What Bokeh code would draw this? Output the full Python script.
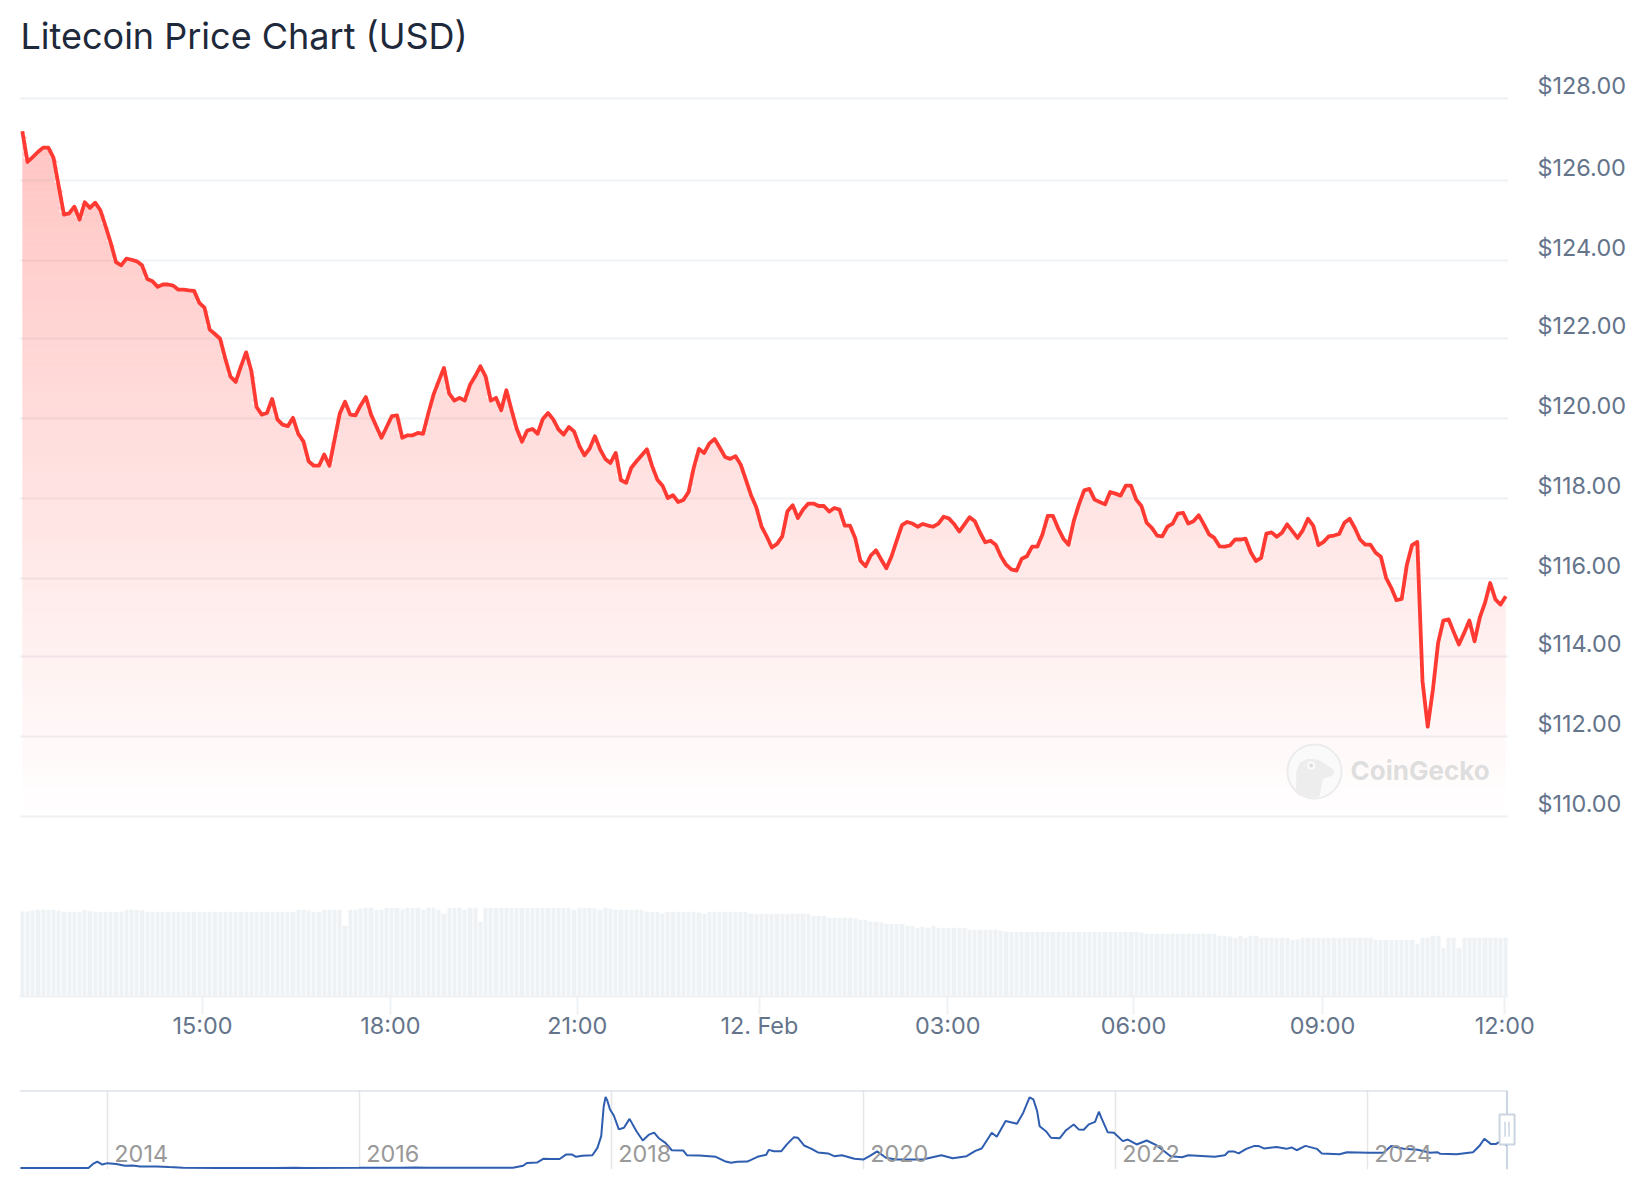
from bokeh.plotting import figure
from bokeh.layouts import column
from bokeh.models import Range1d, LinearAxis, FixedTicker, Title, Label
from bokeh.core.properties import value
from bokeh.embed import file_html
from bokeh.resources import INLINE
import numpy as np

TITLE = "Litecoin Price Chart (USD)"

PRICE = [
127.17,126.40,126.52,126.65,126.76,126.76,126.50,125.79,125.08,125.11,125.28,124.96,125.39,125.25,125.38,125.19,
124.79,124.37,123.89,123.81,123.98,123.95,123.91,123.81,123.47,123.41,123.27,123.33,123.33,123.30,123.20,123.20,
123.18,123.17,122.87,122.75,122.20,122.09,121.97,121.47,121.02,120.89,121.28,121.63,121.16,120.26,120.07,120.11,
120.46,119.95,119.82,119.78,119.99,119.59,119.40,118.90,118.79,118.79,119.07,118.79,119.45,120.10,120.39,120.07,
120.05,120.30,120.51,120.07,119.78,119.49,119.76,120.03,120.05,119.49,119.55,119.55,119.61,119.59,120.10,120.57,
120.91,121.24,120.60,120.42,120.49,120.42,120.81,121.03,121.28,121.03,120.42,120.49,120.18,120.68,120.18,119.71,
119.39,119.67,119.71,119.59,119.96,120.11,119.95,119.70,119.57,119.76,119.65,119.29,119.05,119.22,119.53,119.20,
118.96,118.86,119.11,118.43,118.36,118.74,118.90,119.05,119.20,118.78,118.44,118.29,117.98,118.05,117.88,117.93,
118.13,118.74,119.21,119.11,119.35,119.46,119.24,119.01,118.96,119.03,118.82,118.44,118.05,117.75,117.27,117.02,
116.74,116.83,117.02,117.65,117.80,117.48,117.69,117.84,117.84,117.78,117.78,117.64,117.73,117.69,117.29,117.29,
116.98,116.41,116.27,116.54,116.67,116.44,116.22,116.52,116.92,117.30,117.38,117.34,117.26,117.33,117.29,117.26,
117.34,117.51,117.47,117.33,117.14,117.32,117.50,117.40,117.11,116.87,116.91,116.81,116.52,116.31,116.19,116.16,
116.46,116.52,116.76,116.76,117.07,117.53,117.53,117.22,116.96,116.81,117.40,117.82,118.17,118.21,117.94,117.88,
117.82,118.13,118.09,118.04,118.29,118.29,117.94,117.78,117.36,117.23,117.04,117.02,117.26,117.34,117.59,117.61,
117.34,117.40,117.55,117.32,117.07,116.98,116.77,116.76,116.79,116.94,116.94,116.96,116.62,116.40,116.48,117.09,
117.12,117.01,117.11,117.32,117.15,116.98,117.17,117.46,117.29,116.80,116.88,117.02,117.04,117.08,117.36,117.46,
117.23,116.94,116.81,116.81,116.61,116.51,115.98,115.73,115.42,115.45,116.31,116.80,116.88,113.39,112.25,113.18,
114.35,114.91,114.94,114.62,114.31,114.60,114.91,114.39,114.98,115.35,115.85,115.44,115.31,115.52,
]

VOLUME_M = [
765,765,774,780,780,780,780,774,762,762,762,762,780,768,762,762,762,762,762,762,780,780,780,774,762,762,762,762,762,762,
762,762,762,762,762,762,762,762,762,762,762,762,762,762,762,762,762,762,762,762,762,762,762,780,780,774,762,762,780,780,
780,780,636,780,780,789,798,798,780,780,798,798,798,786,798,798,798,780,798,798,780,744,798,798,798,780,798,798,672,798,
798,798,798,798,798,798,798,798,798,798,798,798,798,798,798,798,780,798,798,798,795,780,798,789,780,780,780,780,780,780,
762,762,762,744,762,762,762,762,762,762,756,744,762,762,762,762,762,762,762,762,744,744,744,744,744,744,744,744,744,744,
744,744,726,726,726,708,708,708,708,708,702,690,690,672,672,666,654,654,654,654,636,636,618,627,618,636,618,618,618,618,
618,618,600,600,600,600,600,600,591,582,582,582,582,582,582,582,582,582,582,582,582,582,582,582,582,582,582,582,582,582,
582,582,582,582,582,576,564,564,564,564,564,564,564,564,564,564,564,564,564,564,546,546,540,528,546,528,546,546,528,528,
528,528,528,528,510,516,528,528,528,528,528,528,528,528,528,528,528,528,528,528,510,510,510,510,510,510,510,510,474,528,
528,546,546,438,528,528,438,528,528,528,528,528,528,528,528,528,
]

TICK_POSITION = [34.6, 70.7, 106.6, 141.6, 177.8, 213.5, 249.8, 284.8]
TICK_LABEL = ["15:00", "18:00", "21:00", "12. Feb", "03:00", "06:00", "09:00", "12:00"]
PRICE_TICK_AT = [110, 112.0, 114.01, 115.96, 117.97, 119.97, 121.98, 123.93, 125.94, 128]
PRICE_TICK_LABEL = ["$110.00", "$112.00", "$114.00", "$116.00", "$118.00",
                    "$120.00", "$122.00", "$124.00", "$126.00", "$128.00"]

NAV_YEAR = [
2013.31,2013.85,2013.89,2013.92,2013.96,2014.0,2014.07,2014.14,2014.2,2014.26,2014.39,2014.49,2014.6,2014.88,2015.32,
2015.49,2015.58,2016.0,2016.33,2016.44,2016.55,2017.22,2017.3,2017.33,2017.41,2017.46,2017.52,2017.59,2017.64,2017.69,
2017.72,2017.77,2017.85,2017.89,2017.92,2017.94,2017.955,2017.97,2017.99,2018.02,2018.06,2018.1,2018.145,2018.2,2018.25,
2018.3,2018.34,2018.38,2018.43,2018.48,2018.57,2018.6,2018.7,2018.83,2018.9,2018.95,2019.0,2019.08,2019.16,2019.23,
2019.25,2019.29,2019.35,2019.39,2019.45,2019.48,2019.53,2019.59,2019.64,2019.72,2019.77,2019.83,2019.93,2020.0,2020.05,
2020.11,2020.18,2020.26,2020.47,2020.62,2020.71,2020.82,2020.89,2020.94,2021.02,2021.06,2021.13,2021.22,2021.27,2021.32,
2021.35,2021.38,2021.4,2021.45,2021.49,2021.56,2021.61,2021.67,2021.71,2021.75,2021.79,2021.84,2021.87,2021.89,2021.94,
2021.99,2022.06,2022.1,2022.17,2022.25,2022.33,2022.44,2022.53,2022.58,2022.79,2022.87,2022.9,2022.94,2022.98,2023.04,
2023.1,2023.14,2023.18,2023.28,2023.36,2023.4,2023.44,2023.51,2023.6,2023.64,2023.78,2023.84,2024.01,2024.13,2024.19,
2024.29,2024.4,2024.5,2024.56,2024.58,2024.71,2024.84,2024.89,2024.93,2024.98,2025.02,2025.05,2025.11,
]
NAV_PRICE = [
3,3,25,35,20,27,23,14,15,10,10,7,4,3,2.5,4,3,3.5,4,5,3.5,4,14,28,30,49,48,48,70,70,59,64,67,104,163,314,361,339,297,267,
197,205,250,188,141,171,181,151,129,92,91,67,66,59,37,29,34,35,59,69,94,87,87,119,158,155,116,99,81,76,62,67,49,45,62,86,
54,45,45,67,52,62,89,101,180,160,239,225,281,358,348,289,213,188,155,153,193,222,197,195,222,235,286,255,183,180,138,146,
121,141,116,62,57,67,59,67,86,86,76,99,113,113,101,108,99,106,92,114,99,76,72,82,79,79,113,99,94,79,82,74,72,82,113,150,
124,123,134,118,
]
NAV_TICK_YEARS = [2014, 2016, 2018, 2020, 2022, 2024]

FONT = "Inter"
GRID = "#eff2f5"
SLATE = "#64748b"
RED = "#ff3a33"

index = np.arange(len(PRICE), dtype=float)
price = np.array(PRICE)
X0, X1 = -0.54, 285.52
FRAME_W = 1489
PPU = FRAME_W / (X1 - X0)
PX_PER_USD = 39.91
Y_TOP = 128.767
Y_BOT = 109.674

# ---------- price panel ----------
p1 = figure(width=1635, height=849, output_backend="svg", toolbar_location=None,
            x_range=Range1d(X0, X1), y_range=Range1d(Y_BOT, Y_TOP),
            min_border_left=19, min_border_right=127, min_border_top=67, min_border_bottom=20)
p1.xaxis.visible = False
p1.yaxis.visible = False
p1.outline_line_color = None
p1.xgrid.visible = False
p1.ygrid.ticker = FixedTicker(ticks=PRICE_TICK_AT)
p1.ygrid.grid_line_color = GRID
p1.ygrid.grid_line_width = 2
p1.title = Title(text=TITLE, text_font=FONT, text_font_size="36px", text_font_style="normal",
                 text_color="#1e293b", offset=1, standoff=20)

# tick labels sit just above their gridline: a second range shifted by 13 px
SHIFT = 13 / PX_PER_USD
p1.extra_y_ranges = {"labels": Range1d(Y_BOT - SHIFT, Y_TOP - SHIFT)}
ax = LinearAxis(y_range_name="labels", ticker=FixedTicker(ticks=PRICE_TICK_AT),
                major_label_overrides=dict(zip(PRICE_TICK_AT, PRICE_TICK_LABEL)),
                axis_line_color=None, major_tick_line_color=None, minor_tick_line_color=None,
                major_label_text_font=FONT, major_label_text_font_size="23.4px",
                major_label_text_color=SLATE, major_label_standoff=29,
                major_tick_in=0, major_tick_out=0)
p1.add_layout(ax, "right")

# vertical gradient under the line, pixel-aligned bands
BAND = 6 / PX_PER_USD
n_bands = int((price.max() - 110) / BAND) + 1
for k in range(n_bands):
    a = 110 + k * BAND
    b = a + BAND
    mid = (a + b) / 2
    alpha = 0.30 * (mid - 110) / (price.max() - 110)
    p1.varea(index, np.full_like(price, a), np.clip(price, a, b),
             fill_color=RED, fill_alpha=float(alpha))

p1.line(index, price, line_color=RED, line_width=3.8, line_join="round")

# watermark, placed in pixels of the page
def wx(px): return X0 + (np.asarray(px, float) - 20) / PPU
def wy(py): return 128 - (np.asarray(py, float) - 98.6) / PX_PER_USD
p1.scatter([wx(1315)], [wy(772)], size=54, fill_color="#fafafa", fill_alpha=0.9,
           line_color="#ececec", line_width=2)
gecko_x = 1280 + np.array([50, 50, 60, 85, 115, 140, 165, 160, 130, 125, 120, 90, 60]) / 3
gecko_y = 730 + np.array([190, 130, 100, 88, 90, 105, 122, 138, 148, 175, 200, 205, 198]) / 3
p1.patch(wx(gecko_x), wy(gecko_y), fill_color="#ededed", line_color=None)
p1.scatter([wx(1280 + 95 / 3)], [wy(730 + 108 / 3)], size=8, fill_color="#fbfbfb", line_color=None)
p1.scatter([wx(1280 + 95 / 3)], [wy(730 + 108 / 3)], size=4, fill_color="#dddddd", line_color=None)
p1.add_layout(Label(x=float(wx(1351)), y=float(wy(771)), text="CoinGecko", text_font=FONT,
                    text_font_size="26px", text_font_style="bold", text_color="#dedede",
                    text_baseline="middle", text_align="left"))

# ---------- volume panel ----------
p2 = figure(width=1635, height=235, output_backend="svg", toolbar_location=None,
            x_range=p1.x_range, y_range=Range1d(0, 1323),
            min_border_left=19, min_border_right=127, min_border_top=0, min_border_bottom=88)
p2.yaxis.visible = False
p2.grid.visible = False
p2.outline_line_color = None
# bars snapped to whole pixels, as crisp columns
centre_px = (index - X0) * PPU
left = X0 + np.round(centre_px - 2.1) / PPU
right = X0 + np.round(centre_px + 2.1) / PPU
p2.quad(left=left, right=right, bottom=0, top=VOLUME_M, fill_color=GRID, line_color=None)
xa = p2.xaxis[0]
xa.ticker = FixedTicker(ticks=TICK_POSITION)
xa.major_label_overrides = dict(zip(TICK_POSITION, TICK_LABEL))
xa.axis_line_color = GRID
xa.axis_line_width = 2
xa.major_tick_line_color = GRID
xa.major_tick_line_width = 2
xa.major_tick_in = 0
xa.major_tick_out = 18
xa.minor_tick_line_color = None
xa.major_label_text_font = FONT
xa.major_label_text_font_size = "23.4px"
xa.major_label_text_color = SLATE
xa.major_label_standoff = -4

# ---------- navigator ----------
YEAR0 = 2014 + (19 - 106.8) / 125.9
YEAR1 = 2014 + (1519 - 106.8) / 125.9
p3 = figure(width=1635, height=93, output_backend="svg", toolbar_location=None,
            x_range=Range1d(YEAR0, YEAR1), y_range=Range1d(-5.04, 393),
            min_border_left=19, min_border_right=115, min_border_top=6, min_border_bottom=8)
p3.xaxis.visible = False
p3.yaxis.visible = False
p3.ygrid.visible = False
p3.outline_line_color = None
p3.xgrid.ticker = FixedTicker(ticks=NAV_TICK_YEARS)
p3.xgrid.grid_line_color = "#e6e6e6"
p3.xgrid.grid_line_width = 1.5
END = NAV_YEAR[-1]
BORDER = "#cbd5e1"
p3.segment([YEAR0, END], [393, 393], [END, END], [393, -5.04], line_color=BORDER, line_width=2)
p3.line(NAV_YEAR, NAV_PRICE, line_color="#2f5db0", line_width=2)
p3.text(NAV_TICK_YEARS, [74] * len(NAV_TICK_YEARS), [str(y) for y in NAV_TICK_YEARS],
        text_font=value(FONT), text_font_size="23.4px", text_color="#999999",
        text_baseline="middle", x_offset=7)
p3.rect([END], [197], width=15, height=30, width_units="screen", height_units="screen",
        fill_color="#ffffff", line_color=BORDER, line_width=2)
dx = 2 / 125.9
p3.segment([END - dx, END + dx], [160, 160], [END - dx, END + dx], [236, 236],
           line_color=BORDER, line_width=1.5)

page = column(column(p1, p2, spacing=0), p3, spacing=0)
open("out.html", "w").write(file_html(page, INLINE))
